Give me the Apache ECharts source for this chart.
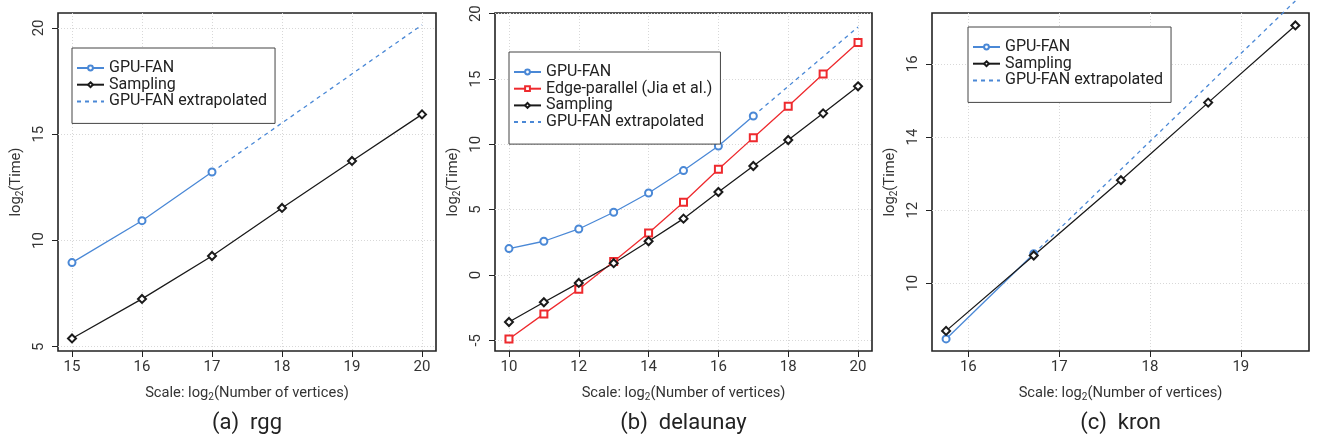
<!DOCTYPE html>
<html>
<head>
<meta charset="utf-8">
<script src="https://cdn.jsdelivr.net/npm/echarts@6/dist/echarts.min.js"></script>
<style>
html,body{margin:0;padding:0;background:#fff;}
#c{width:1319px;height:440px;}
</style>
</head>
<body>
<div id="c"></div>
<script>
// ---------- data ----------
// (a) rgg
const rggX = [15, 16, 17, 18, 19, 20];
const rggGpuFan = [8.96, 10.93, 13.22];
const rggSampling = [5.39, 7.25, 9.27, 11.53, 13.74, 15.93];
const rggExtrapX = [17, 20];
const rggExtrap = [13.22, 20.14];
const rggXTicks = [15, 16, 17, 18, 19, 20];
const rggYTicks = [5, 10, 15, 20];

// (b) delaunay
const delX = [10, 11, 12, 13, 14, 15, 16, 17, 18, 19, 20];
const delGpuFan = [2.02, 2.58, 3.52, 4.80, 6.27, 7.99, 9.87, 12.17];
const delEdge = [-4.90, -2.98, -1.09, 1.03, 3.21, 5.56, 8.09, 10.51, 12.91, 15.38, 17.80];
const delSampling = [-3.60, -2.09, -0.61, 0.90, 2.58, 4.31, 6.35, 8.34, 10.33, 12.37, 14.44];
const delExtrapX = [17, 20];
const delExtrap = [12.17, 18.98];
const delXTicks = [10, 12, 14, 16, 18, 20];
const delYTicks = [-5, 0, 5, 10, 15, 20];

// (c) kron
const kronX = [15.755, 16.72, 17.68, 18.64, 19.60];
const kronGpuFan = [8.48, 10.81];
const kronSampling = [8.70, 10.76, 12.82, 14.94, 17.05];
const kronExtrapX = [16.72, 19.60];
const kronExtrap = [10.81, 17.72];
const kronXTicks = [16, 17, 18, 19];
const kronYTicks = [10, 12, 14, 16];

const panelTitles = ['(a)  rgg', '(b)  delaunay', '(c)  kron'];
const nameGpu = 'GPU-FAN';
const nameEdge = 'Edge-parallel (Jia et al.)';
const nameSamp = 'Sampling';
const nameExt = 'GPU-FAN extrapolated';

// ---------- styles ----------
const BLUE = '#4a88d6';
const RED = '#ee2a2e';
const BLACK = '#1a1a1a';
const FONT = 'Roboto';
const TXT = '#333';

function pairs(xs, ys) { return ys.map((y, i) => [xs[i], y]); }

const panels = [
  { left: 58, width: 378, xr: [14.8, 20.2], yr: [4.8, 20.7], xt: rggXTicks, yt: rggYTicks,
    legend: { left: 72, top: 48 },
    series: [
      { name: nameGpu, data: pairs(rggX, rggGpuFan), kind: 'gpu' },
      { name: nameSamp, data: pairs(rggX, rggSampling), kind: 'samp' },
      { name: nameExt, data: pairs(rggExtrapX, rggExtrap), kind: 'ext' }
    ], legendNames: [nameGpu, nameSamp, nameExt] },
  { left: 495, width: 377, xr: [9.6, 20.4], yr: [-5.82, 20.05], xt: delXTicks, yt: delYTicks,
    legend: { left: 509, top: 52 },
    series: [
      { name: nameGpu, data: pairs(delX, delGpuFan), kind: 'gpu' },
      { name: nameEdge, data: pairs(delX, delEdge), kind: 'edge' },
      { name: nameSamp, data: pairs(delX, delSampling), kind: 'samp' },
      { name: nameExt, data: pairs(delExtrapX, delExtrap), kind: 'ext' }
    ], legendNames: [nameGpu, nameEdge, nameSamp, nameExt] },
  { left: 932, width: 377, xr: [15.6, 19.75], yr: [8.15, 17.39], xt: kronXTicks, yt: kronYTicks,
    legend: { left: 968, top: 27 },
    series: [
      { name: nameGpu, data: pairs(kronX, kronGpuFan), kind: 'gpu' },
      { name: nameSamp, data: pairs(kronX, kronSampling), kind: 'samp' },
      { name: nameExt, data: pairs(kronExtrapX, kronExtrap), kind: 'ext' }
    ], legendNames: [nameGpu, nameSamp, nameExt] }
];

const kindStyle = {
  gpu:  { color: BLUE,  symbol: 'emptyCircle', symbolSize: 7, type: 'solid' },
  edge: { color: RED,   symbol: 'emptyRect',   symbolSize: 7, type: 'solid' },
  samp: { color: BLACK, symbol: 'emptyDiamond', symbolSize: 8, type: 'solid' },
  ext:  { color: BLUE,  symbol: 'none', symbolSize: 0, type: [4, 4] }
};

const TOP = 13, HEIGHT = 338;
const grid = [], xAxis = [], yAxis = [], series = [], legend = [], graphic = [];

const subRich = {
  t: { fontFamily: FONT, fontSize: 14.7, color: TXT, lineHeight: 18, verticalAlign: 'middle' },
  s: { fontFamily: FONT, fontSize: 10, color: TXT, lineHeight: 9, verticalAlign: 'bottom' }
};

panels.forEach((p, i) => {
  grid.push({ left: p.left, top: TOP, width: p.width, height: HEIGHT, show: true,
    borderColor: '#222', borderWidth: 1.6, backgroundColor: 'transparent', containLabel: false });
  xAxis.push({
    type: 'value', gridIndex: i, min: p.xr[0], max: p.xr[1],
    axisLine: { show: false, onZero: false },
    axisTick: { show: true, length: 6, inside: false, customValues: p.xt, lineStyle: { color: '#222', width: 1 } },
    axisLabel: { customValues: p.xt, margin: 9, fontFamily: FONT, fontSize: 15, color: TXT, showMinLabel: true, showMaxLabel: true },
    splitLine: { show: true, lineStyle: { color: '#d8d8d8', type: [1, 2], width: 1 } },
    name: '{t|Scale: log}{s|2}{t|(Number of vertices)}',
    nameLocation: 'middle', nameGap: 33,
    nameTextStyle: { rich: subRich }
  });
  yAxis.push({
    type: 'value', gridIndex: i, min: p.yr[0], max: p.yr[1],
    axisLine: { show: false, onZero: false },
    axisTick: { show: true, length: 6, inside: false, customValues: p.yt, lineStyle: { color: '#222', width: 1 } },
    axisLabel: { customValues: p.yt, rotate: 90, margin: 11, fontFamily: FONT, fontSize: 15, color: TXT, showMinLabel: true, showMaxLabel: true },
    splitLine: { show: true, lineStyle: { color: '#d8d8d8', type: [1, 2], width: 1 } },
    name: '{t|log}{s|2}{t|(Time)}',
    nameLocation: 'middle', nameGap: 33, nameRotate: 90,
    nameTextStyle: { rich: subRich }
  });
  p.series.forEach(s => {
    const st = kindStyle[s.kind];
    series.push({
      type: 'line', name: s.name, xAxisIndex: i, yAxisIndex: i,
      data: s.data, symbol: st.symbol, symbolSize: st.symbolSize, showSymbol: st.symbol !== 'none',
      clip: !(s.kind === 'ext' && i === 2),
      lineStyle: { color: st.color, width: 1.3, type: st.type },
      itemStyle: { color: st.color, borderWidth: 1 },
      emphasis: { disabled: true },
      animation: false,
      z: s.kind === 'ext' ? 1 : 2
    });
  });
  legend.push({
    orient: 'vertical', left: p.legend.left, top: p.legend.top,
    data: p.legendNames.map(n => n === nameExt
      ? { name: n, itemStyle: { opacity: 0 } }
      : { name: n }),
    itemWidth: 27, itemHeight: 6, itemGap: 0.7,
    padding: [12, 8, 14, 4],
    borderColor: '#444', borderWidth: 1, backgroundColor: '#fff',
    textStyle: { fontFamily: FONT, fontSize: 16, color: '#222', lineHeight: 16 },
    selectedMode: false
  });
  graphic.push({
    type: 'text', x: p.left + p.width / 2, y: 423,
    style: { text: panelTitles[i], fontFamily: FONT, fontSize: 22, fill: '#222', align: 'center', verticalAlign: 'middle' }
  });
});

const chart = echarts.init(document.getElementById('c'), null, { renderer: 'canvas' });
chart.setOption({
  animation: false,
  backgroundColor: '#fff',
  grid, xAxis, yAxis, series, legend, graphic
});
</script>
</body>
</html>
